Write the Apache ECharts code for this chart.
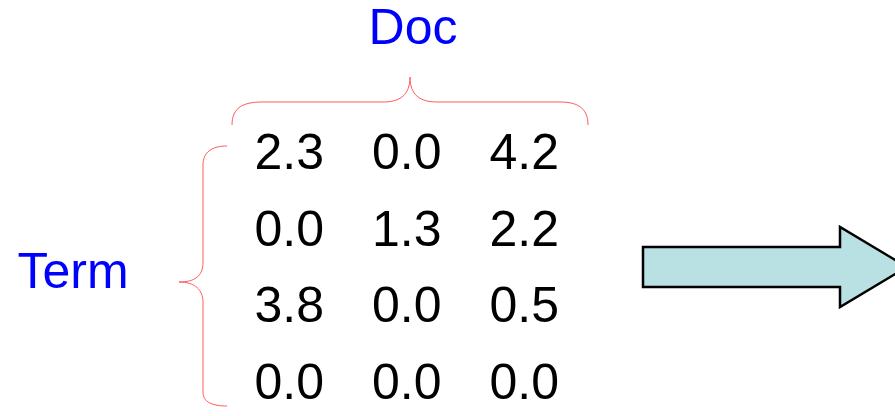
<!DOCTYPE html>
<html>
<head>
<meta charset="utf-8">
<style>
  html, body { margin: 0; padding: 0; background: #ffffff; }
  #main { width: 895px; height: 416px; }
</style>
<script src="https://cdn.jsdelivr.net/npm/echarts@6/dist/echarts.min.js"></script>
</head>
<body>
<div id="main"></div>
<script>
// Data
var docs = ['D1', 'D2', 'D3'];
var terms = ['T1', 'T2', 'T3', 'T4'];
var row1 = [2.3, 0.0, 4.2];
var row2 = [0.0, 1.3, 2.2];
var row3 = [3.8, 0.0, 0.5];
var row4 = [0.0, 0.0, 0.0];
var rows = [row1, row2, row3, row4];
var colLabel = 'Doc';
var rowLabel = 'Term';

var points = [];
rows.forEach(function (r, ri) {
  r.forEach(function (v, ci) {
    points.push([docs[ci], terms[ri], v]);
  });
});

var chart = echarts.init(document.getElementById('main'), null, { renderer: 'canvas' });
var FONT = '"Liberation Sans", Arial, sans-serif';
var braceColor = '#ff5a5a';
var braceStyle = { fill: null, stroke: braceColor, lineWidth: 1 };

function bz(p0, c1, c2, p1) {
  return { type: 'bezierCurve', silent: true,
    shape: { x1: p0[0], y1: p0[1], cpx1: c1[0], cpy1: c1[1], cpx2: c2[0], cpy2: c2[1], x2: p1[0], y2: p1[1] },
    style: braceStyle };
}
function ln(p0, p1) {
  return { type: 'line', silent: true,
    shape: { x1: p0[0], y1: p0[1], x2: p1[0], y2: p1[1] }, style: braceStyle };
}

var braces = [
  // top brace
  bz([232, 125], [232, 110], [240, 102], [262, 102]),
  ln([262, 102], [383, 102]),
  bz([383, 102], [400, 102], [410, 95], [410, 77]),
  bz([410, 77], [410, 95], [420, 102], [437, 102]),
  ln([437, 102], [560, 102]),
  bz([560, 102], [580, 102], [588, 110], [588, 125]),
  // left brace
  bz([227, 146], [212, 146], [203, 152], [203, 165]),
  ln([203, 165], [203, 262]),
  bz([203, 262], [203, 276], [195, 282], [179, 282]),
  bz([179, 282], [195, 282], [203, 290], [203, 302]),
  ln([203, 302], [203, 392]),
  bz([203, 392], [203, 402], [212, 406], [227, 406])
];

chart.setOption({
  backgroundColor: '#ffffff',
  animation: false,
  grid: { left: 230.5, width: 352.5, top: 117.25, height: 306, outerBoundsMode: 'none', containLabel: false },
  xAxis: { type: 'category', data: docs, show: false },
  yAxis: { type: 'category', data: terms, inverse: true, show: false },
  series: [{
    type: 'scatter',
    data: points,
    symbolSize: 0,
    itemStyle: { opacity: 1 },
    label: {
      show: true,
      position: 'inside',
      formatter: function (p) { return p.value[2].toFixed(1); },
      fontFamily: FONT,
      fontSize: 50,
      color: '#000000',
      opacity: 1,
      textBorderWidth: 0
    }
  }],
  graphic: braces.concat([
    {
      type: 'text',
      x: 413, y: 30,
      style: { text: colLabel, fill: '#0000ff', font: '50px ' + FONT, align: 'center', verticalAlign: 'middle' }
    },
    {
      type: 'text',
      x: 73, y: 274,
      style: { text: rowLabel, fill: '#0000ff', font: '50px ' + FONT, align: 'center', verticalAlign: 'middle' }
    },
    {
      type: 'polygon',
      shape: { points: [[643, 247], [840, 247], [840, 227], [907, 267], [840, 307], [840, 287], [643, 287]] },
      style: { fill: '#b9e0e3', stroke: '#000000', lineWidth: 2.5, lineJoin: 'miter' }
    }
  ])
});
</script>
</body>
</html>
